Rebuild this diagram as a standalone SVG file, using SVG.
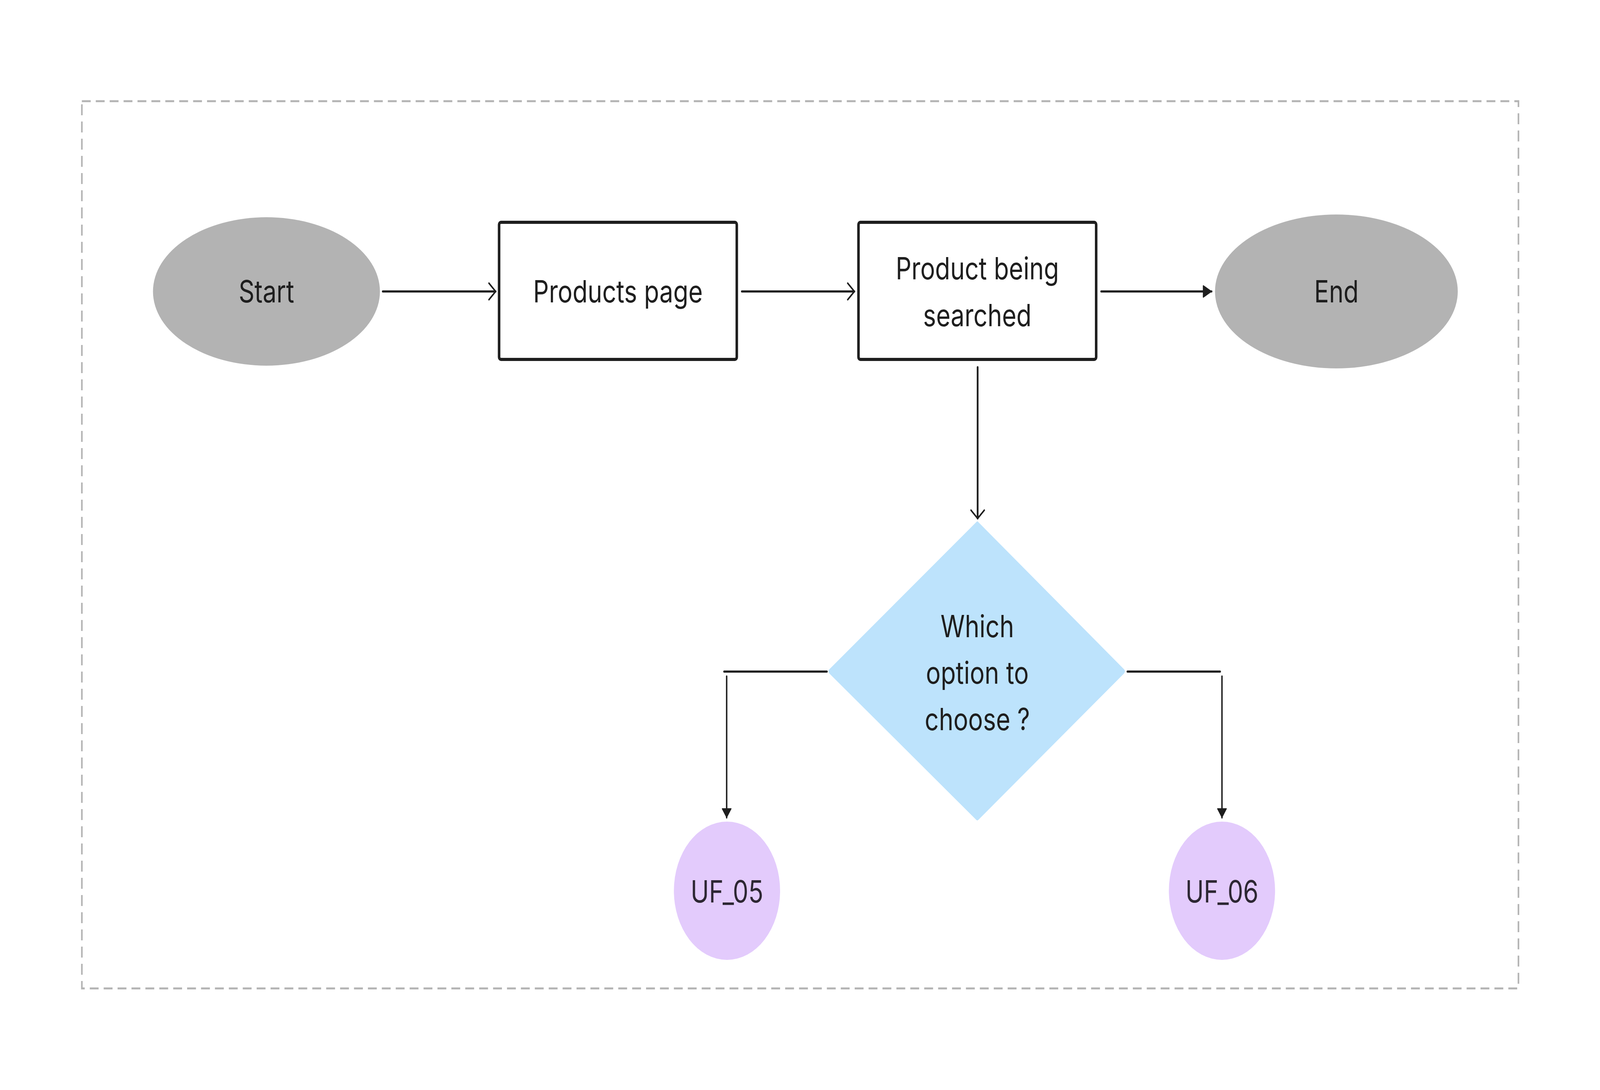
<svg xmlns="http://www.w3.org/2000/svg" width="5062" height="2790" viewBox="0 0 5062 2790" preserveAspectRatio="none">
<style>
svg{width:100%;height:100%}
.lbl{font-family:Inter,"Noto Sans","Liberation Sans",sans-serif;font-size:78px;fill:#1e1e1e;text-anchor:middle}
.uft{fill:#2d2733}
.box{fill:#ffffff;stroke:#1e1e1e;stroke-width:8}
.term{fill:#b3b3b3}
.uf{fill:#e3cbfc}
.conn{fill:none;stroke:#1e1e1e;stroke-width:5.5;stroke-linecap:round}
.thin{stroke-width:4.5}
</style>
<defs>
<marker id="open" markerUnits="userSpaceOnUse" markerWidth="32" markerHeight="52" viewBox="-28 -26 32 52" refX="0" refY="0" orient="auto">
<path d="M-21,-21 L0,0 L-21,21" fill="none" stroke="#1e1e1e" stroke-width="4.5" stroke-linecap="round" stroke-linejoin="round"/>
</marker>
<marker id="solid" markerUnits="userSpaceOnUse" markerWidth="36" markerHeight="40" viewBox="-31 -20 36 40" refX="0" refY="0" orient="auto">
<path d="M-26,-14.5 L-1,0 L-26,14.5 Z" fill="#1e1e1e" stroke="#1e1e1e" stroke-width="3" stroke-linejoin="round"/>
</marker>
<marker id="solidsm" markerUnits="userSpaceOnUse" markerWidth="32" markerHeight="40" viewBox="-28 -20 32 40" refX="0" refY="0" orient="auto">
<path d="M-23,-14 L-1,0 L-23,14 Z" fill="#1e1e1e" stroke="#1e1e1e" stroke-width="2.5" stroke-linejoin="round"/>
</marker>
</defs>
<rect width="5062" height="2790" fill="#ffffff"/>
<rect id="frame" x="259" y="259" width="4545" height="2271" fill="none" stroke="#b3b3b3" stroke-width="5" stroke-dasharray="28 16"/>
<g id="connectors">
<path class="conn" d="M1211,746 L1568,746" marker-end="url(#open)"/>
<path class="conn" d="M2347,746 L2703,746" marker-end="url(#open)"/>
<path class="conn" d="M3484,746 L3833,746" marker-end="url(#solid)"/>
<path class="conn" d="M3093,940 L3093,1327" marker-end="url(#open)"/>
<path class="conn" d="M2616,1719 L2291,1719"/>
<path class="conn thin" d="M2299,1731 L2299,2093" marker-end="url(#solidsm)"/>
<path class="conn" d="M3567,1719 L3860,1719"/>
<path class="conn thin" d="M3866,1731 L3866,2093" marker-end="url(#solidsm)"/>
</g>
<g id="start">
<ellipse class="term" cx="843" cy="746" rx="359" ry="190"/>
<text class="lbl" x="843" y="774">Start</text>
</g>
<g id="products-page">
<rect class="box" x="1579" y="569" width="752" height="351" rx="6"/>
<text class="lbl" x="1955" y="774">Products page</text>
</g>
<g id="product-searched">
<rect class="box" x="2716" y="569" width="752" height="351" rx="6"/>
<text class="lbl" x="3092" y="715">Product being</text>
<text class="lbl" x="3092" y="835">searched</text>
</g>
<g id="end">
<ellipse class="term" cx="4228" cy="746" rx="384" ry="197"/>
<text class="lbl" x="4228" y="774">End</text>
</g>
<g id="decision">
<path d="M3092,1336 Q3092,1333 3096,1337 L3556,1713 Q3562,1718 3556,1724 L3096,2098 Q3092,2102 3088,2098 L2624,1724 Q2618,1718 2624,1713 L3088,1337 Q3092,1333 3092,1336 Z" fill="#bde3fc"/>
<text class="lbl" x="3092" y="1631">Which</text>
<text class="lbl" x="3092" y="1750">option to</text>
<text class="lbl" x="3092" y="1869">choose ?</text>
</g>
<g id="uf05">
<ellipse class="uf" cx="2300" cy="2280" rx="168" ry="177"/>
<text class="lbl uft" x="2300" y="2310">UF_05</text>
</g>
<g id="uf06">
<ellipse class="uf" cx="3866" cy="2280" rx="168" ry="177"/>
<text class="lbl uft" x="3866" y="2310">UF_06</text>
</g>
</svg>
